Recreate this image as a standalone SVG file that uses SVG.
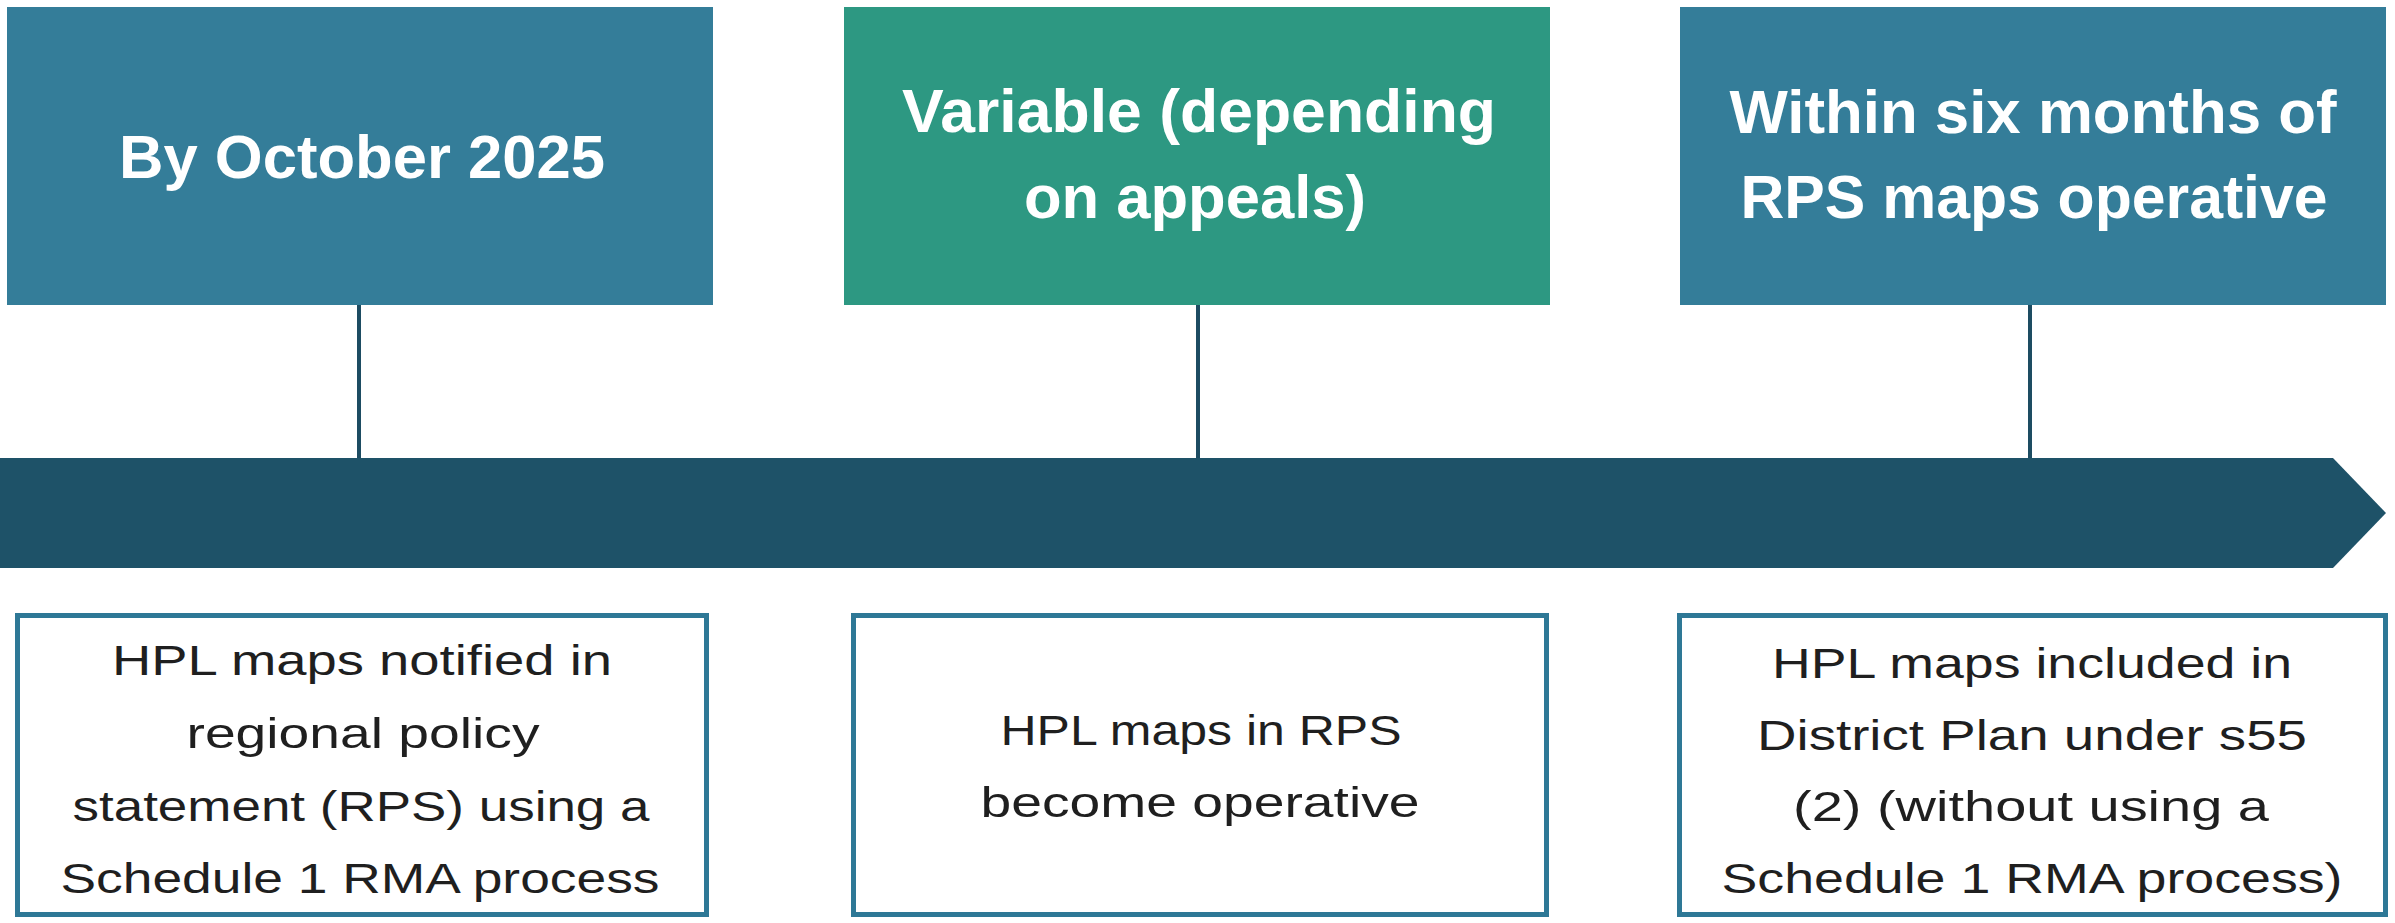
<svg xmlns="http://www.w3.org/2000/svg" width="2395" height="923" viewBox="0 0 2395 923">
  <style>
    .head { stroke: none; }
    .blue { fill: #347d99; }
    .green { fill: #2d9882; }
    .head-text { font-family: "Liberation Sans", Arial, sans-serif; font-weight: bold; font-size: 62px; fill: #ffffff; text-anchor: middle; }
    .note { fill: #ffffff; stroke: #2e7896; stroke-width: 5; }
    .note-text { font-family: "Liberation Sans", Arial, sans-serif; font-size: 42px; fill: #1f1f1f; text-anchor: middle; }
    .stem { stroke: #1d4c62; stroke-width: 4; fill: none; }
    .axis { fill: #1e5268; }
  </style>

  <rect width="2395" height="923" fill="#ffffff"/>

  <!-- timeline axis and stems -->
  <g id="connectors">
    <polygon class="axis" points="0,458 2333,458 2386,513 2333,568 0,568"/>
    <line class="stem" x1="359" y1="305" x2="359" y2="458"/>
    <line class="stem" x1="1198" y1="305" x2="1198" y2="458"/>
    <line class="stem" x1="2030" y1="305" x2="2030" y2="458"/>
  </g>

  <!-- milestone headers -->
  <g id="milestone-1">
    <rect class="head blue" x="7" y="7" width="706" height="298"/>
    <text class="head-text" x="362" y="178" textLength="486" lengthAdjust="spacingAndGlyphs">By October 2025</text>
  </g>
  <g id="milestone-2">
    <rect class="head green" x="844" y="7" width="706" height="298"/>
    <text class="head-text" x="1199" y="132" textLength="594" lengthAdjust="spacingAndGlyphs">Variable (depending</text>
    <text class="head-text" x="1195" y="218" textLength="342" lengthAdjust="spacingAndGlyphs">on appeals)</text>
  </g>
  <g id="milestone-3">
    <rect class="head blue" x="1680" y="7" width="706" height="298"/>
    <text class="head-text" x="2033" y="133" textLength="607" lengthAdjust="spacingAndGlyphs">Within six months of</text>
    <text class="head-text" x="2034" y="218" textLength="587" lengthAdjust="spacingAndGlyphs">RPS maps operative</text>
  </g>

  <!-- milestone descriptions -->
  <g id="detail-1">
    <rect class="note" x="17.5" y="615.5" width="689" height="299"/>
    <text class="note-text" x="362" y="675" textLength="500" lengthAdjust="spacingAndGlyphs">HPL maps notified in</text>
    <text class="note-text" x="363" y="748" textLength="353" lengthAdjust="spacingAndGlyphs">regional policy</text>
    <text class="note-text" x="361" y="821" textLength="577" lengthAdjust="spacingAndGlyphs">statement (RPS) using a</text>
    <text class="note-text" x="360" y="893" textLength="599" lengthAdjust="spacingAndGlyphs">Schedule 1 RMA process</text>
  </g>
  <g id="detail-2">
    <rect class="note" x="853.5" y="615.5" width="693" height="299"/>
    <text class="note-text" x="1201" y="745" textLength="401" lengthAdjust="spacingAndGlyphs">HPL maps in RPS</text>
    <text class="note-text" x="1200" y="817" textLength="439" lengthAdjust="spacingAndGlyphs">become operative</text>
  </g>
  <g id="detail-3">
    <rect class="note" x="1679.5" y="615.5" width="706" height="299"/>
    <text class="note-text" x="2032" y="678" textLength="520" lengthAdjust="spacingAndGlyphs">HPL maps included in</text>
    <text class="note-text" x="2032" y="750" textLength="550" lengthAdjust="spacingAndGlyphs">District Plan under s55</text>
    <text class="note-text" x="2031" y="821" textLength="476" lengthAdjust="spacingAndGlyphs">(2) (without using a</text>
    <text class="note-text" x="2032" y="893" textLength="621" lengthAdjust="spacingAndGlyphs">Schedule 1 RMA process)</text>
  </g>
</svg>
